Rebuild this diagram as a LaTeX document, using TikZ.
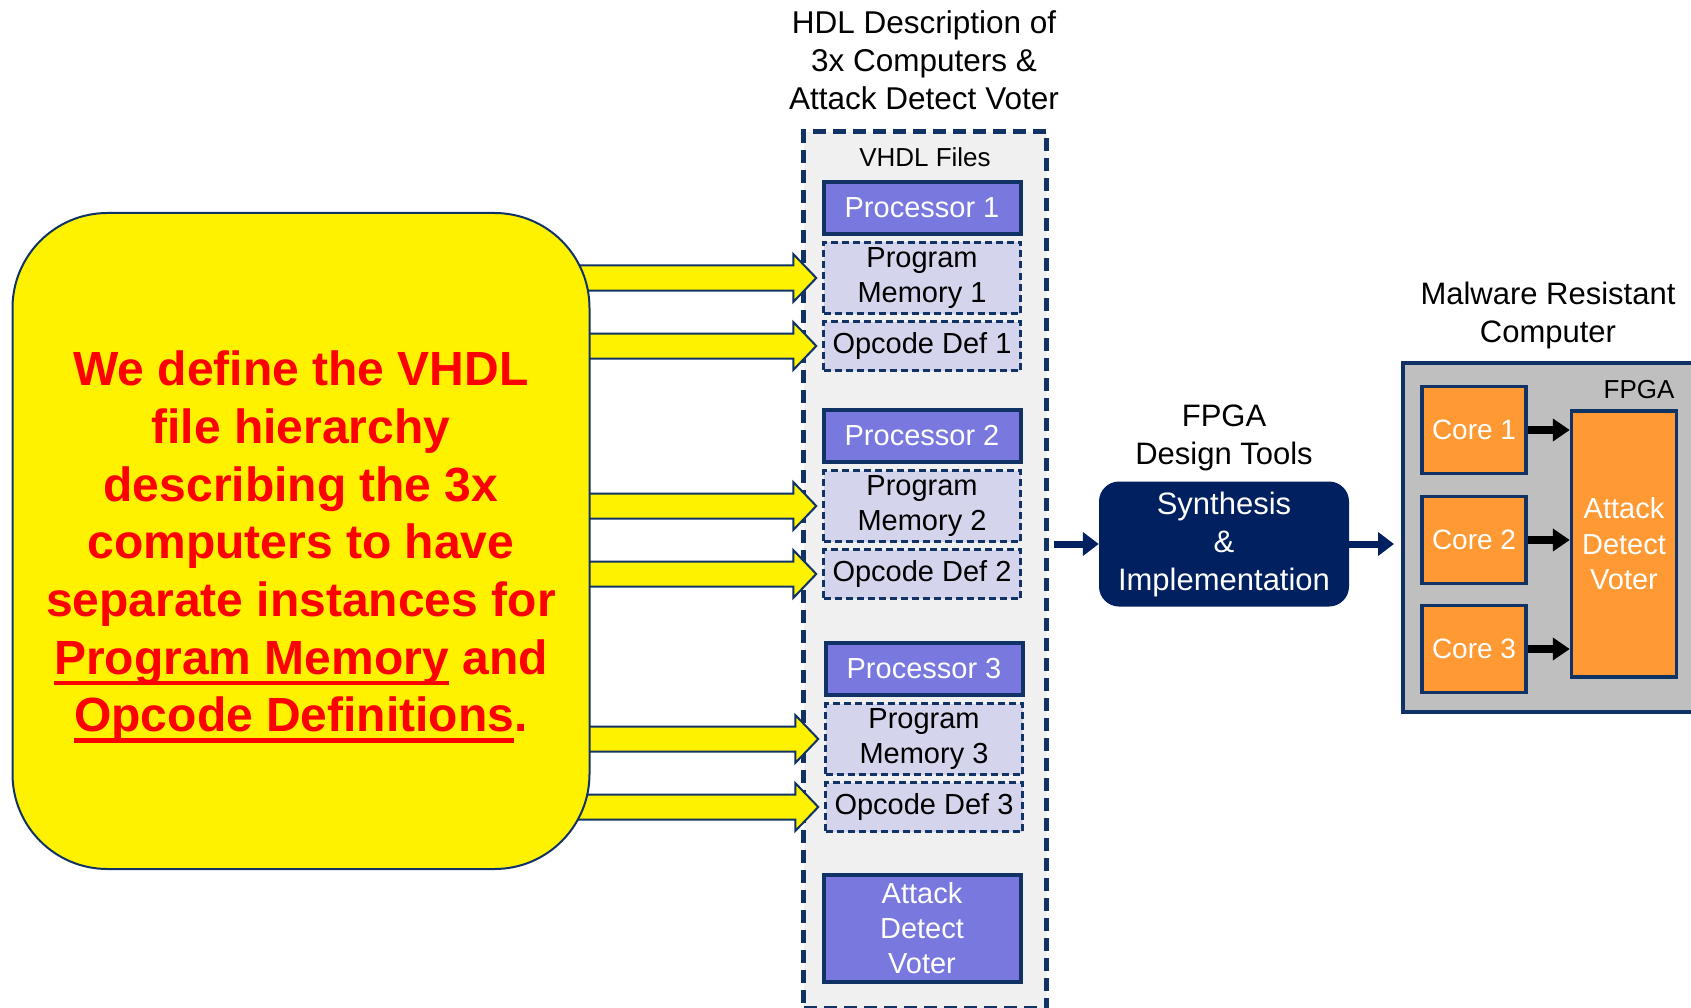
\documentclass[tikz,border=0pt]{standalone}
\usepackage{fontspec}
\setmainfont{Liberation Sans}
\usetikzlibrary{arrows.meta,calc}

\definecolor{hdlnavy}{RGB}{16,50,100}
\definecolor{toolnavy}{RGB}{0,32,96}
\definecolor{procblue}{RGB}{120,120,222}
\definecolor{lavender}{RGB}{212,212,236}
\definecolor{filegray}{RGB}{240,240,240}
\definecolor{fpgagray}{RGB}{191,191,191}
\definecolor{coreorange}{RGB}{255,153,51}

% thick underline for the big red text
\newcommand\hdlunder[1]{\setbox0\hbox{#1}\rlap{\rule[-11pt]{\wd0}{4.5pt}}\box0\relax}

% fat yellow arrow from a tail coordinate to a file box
\newcommand\feedarrow[2]{%
  \draw[feedarrow] ($(#1 |- #2.west)+(0,-12.5)$) -- ($(#2.west)+(-29,-12.5)$)
    -- ($(#2.west)+(-29,-24)$) -- ($(#2.west)+(-6,0)$) -- ($(#2.west)+(-29,24)$)
    -- ($(#2.west)+(-29,12.5)$) -- ($(#1 |- #2.west)+(0,12.5)$) -- cycle;}

\tikzset{
  lbl/.style={align=center, font=\fontsize{31}{38}\selectfont},
  procbox/.style={draw=hdlnavy, line width=4pt, fill=procblue, text=white,
    minimum width=197pt, minimum height=52pt, align=center,
    font=\fontsize{29}{32.5}\selectfont},
  filebox/.style={draw=hdlnavy, line width=2.5pt, dash pattern=on 7pt off 4pt,
    fill=lavender, minimum width=197pt, align=center,
    font=\fontsize{29}{35.5}\selectfont},
  feedarrow/.style={fill=yellow, draw=hdlnavy, line width=2pt, line join=miter},
  toolarrow/.style={draw=toolnavy, line width=7pt,
    -{Triangle[length=16pt,width=23pt]}},
  corebox/.style={draw=hdlnavy, line width=3.5pt, fill=coreorange, text=white,
    minimum width=104pt, minimum height=87pt, font=\fontsize{28}{33}\selectfont},
  corearrow/.style={draw=black, line width=8pt,
    -{Triangle[length=17pt,width=22pt]}},
}

\begin{document}
\begin{tikzpicture}[x=1pt, y=-1pt]
\useasboundingbox (0,0) rectangle (1691,1008);

% VHDL file set
\node[lbl, font=\fontsize{31.5}{38}\selectfont] (hdltitle) at (924,60)
  {HDL Description of\\3x Computers \&\\Attack Detect Voter};
\node[draw=hdlnavy, line width=5pt, dash pattern=on 13pt off 7pt, fill=filegray,
  minimum width=243pt, minimum height=876pt] (files) at (925,570) {};
\node[font=\fontsize{26}{30}\selectfont] (vhdl) at (925,157) {VHDL Files};
\foreach \i/\x/\y in {1/922/208, 2/922/436, 3/924/669} {
  \node[procbox] (proc\i) at (\x,\y) {Processor \i};
  \node[filebox, minimum height=71pt] (pm\i) at (\x,\y+70) {Program\\Memory \i};
  \node[filebox, minimum height=49pt] (od\i) at (\x,\y+138) {Opcode Def \i};
}
\node[procbox, minimum height=107pt, font=\fontsize{29}{35}\selectfont] (voter)
  at (922,928) {Attack\\Detect\\Voter};

% arrows into the file boxes, tails hidden under the note
\coordinate (feed) at (560,541);
\foreach \t in {pm1,od1,pm2,od2,pm3,od3}
  \feedarrow{feed}{\t};

\node[draw=hdlnavy, line width=2pt, fill=yellow, rounded corners=95pt,
  minimum width=577pt, minimum height=656pt] (note) at (301,541) {};
\node[text=red, align=center, font=\fontsize{48}{57.7}\selectfont\bfseries]
  (notetext) at (301,547)
  {We define the VHDL\\file hierarchy\\describing the 3x\\computers to have\\separate instances for\\\hdlunder{Program Memory} and\\\hdlunder{Opcode Definitions}.};

% FPGA tools
\node[lbl] (toollbl) at (1224,438) {FPGA\\Design Tools};
\node[fill=toolnavy, rounded corners=20pt, minimum width=250pt, minimum height=125pt,
  text=white, align=center, font=\fontsize{31}{38}\selectfont] (synth) at (1224,544)
  {Synthesis\\\&\\Implementation};

% resulting computer
\node[lbl] (mrclbl) at (1548,315) {Malware Resistant\\Computer};
\node[draw=hdlnavy, line width=4pt, fill=fpgagray, minimum width=330pt,
  minimum height=349pt] (fpga) at (1568,537) {};
\node[font=\fontsize{26}{30}\selectfont] (fpgalbl) at (1639,390) {FPGA};
\foreach \i/\y in {1/430, 2/540, 3/649}
  \node[corebox] (core\i) at (1474,\y) {Core \i};
\node[corebox, minimum width=105pt, minimum height=266pt, align=center,
  font=\fontsize{29}{35.5}\selectfont] (adv) at (1624,544) {Attack\\Detect\\Voter};
\foreach \i in {1,2,3}
  \draw[corearrow] (core\i.east) -- (core\i.east -| adv.west);

\draw[toolarrow, shorten <=5pt] (files.east |- synth.west) -- (synth.west);
\draw[toolarrow, shorten >=7pt] (synth.east) -- (synth.east -| fpga.west);
\end{tikzpicture}
\end{document}
